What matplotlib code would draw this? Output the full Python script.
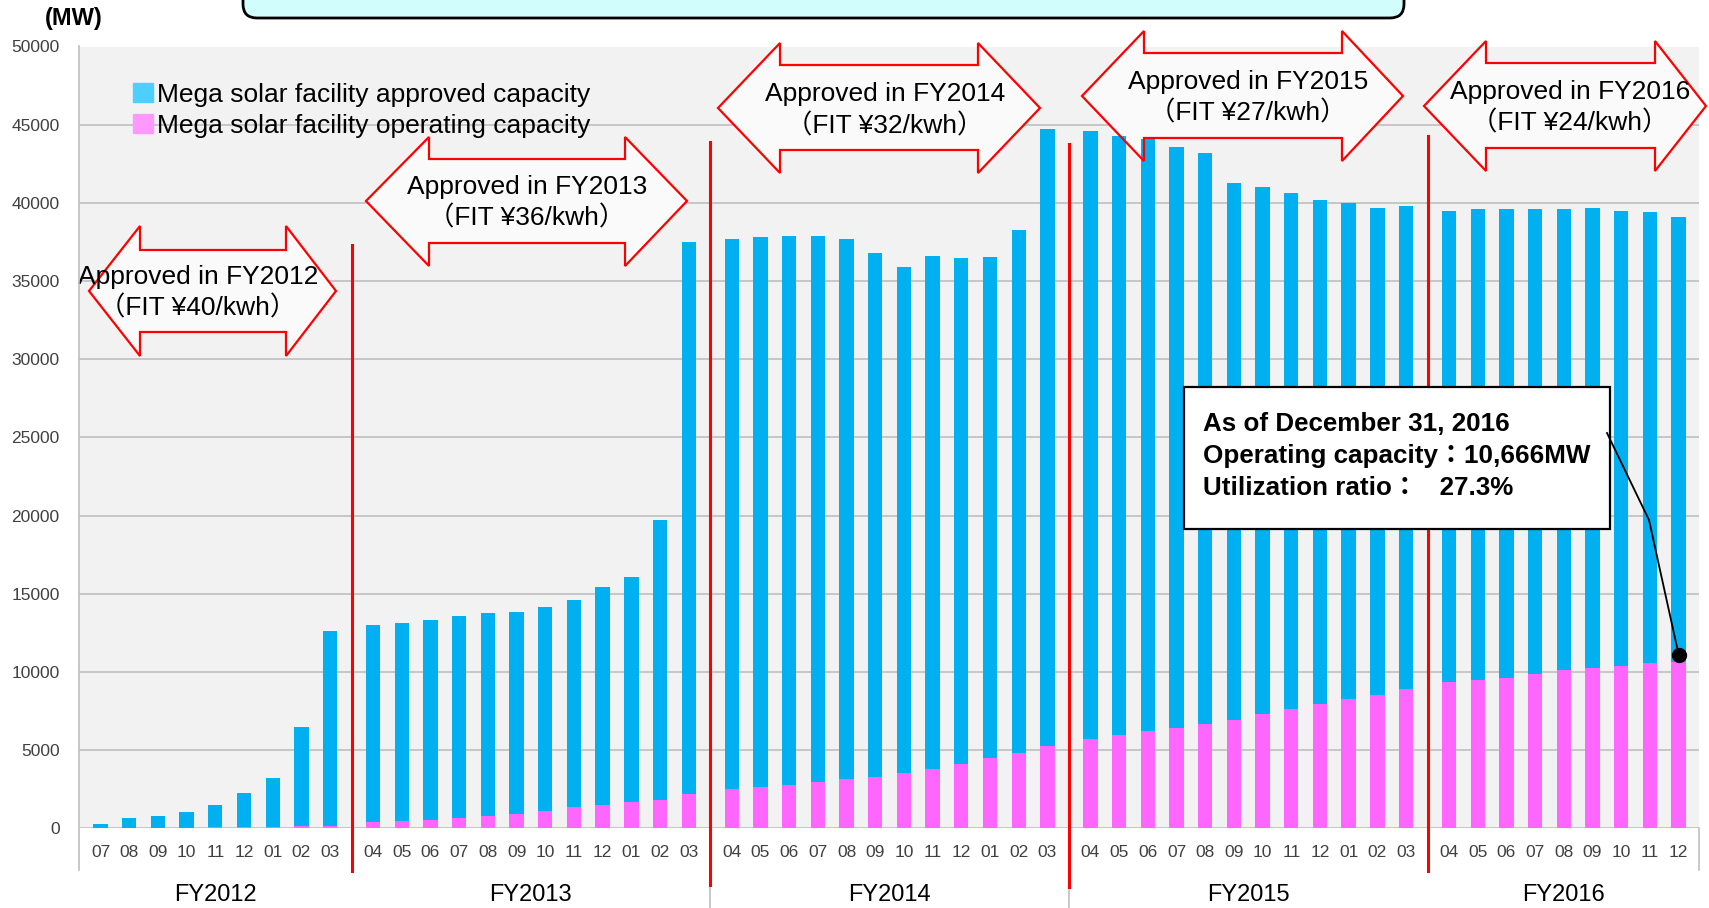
import matplotlib
matplotlib.use("Agg")
import matplotlib.pyplot as plt
import matplotlib.transforms as mtransforms
from matplotlib.patches import Polygon, FancyBboxPatch, Rectangle, Patch
from matplotlib.lines import Line2D

plt.rcParams["font.family"] = ["Liberation Sans", "Noto Sans CJK JP"]

# ---- data (MW) ----
fiscal_years = ["FY2012", "FY2013", "FY2014", "FY2015", "FY2016"]
months_fy2012 = ["07", "08", "09", "10", "11", "12", "01", "02", "03"]
months_full = ["04", "05", "06", "07", "08", "09", "10", "11", "12", "01", "02", "03"]
months_fy2016 = ["04", "05", "06", "07", "08", "09", "10", "11", "12"]
month_groups = [months_fy2012, months_full, months_full, months_full, months_fy2016]

approved = [280, 640, 770, 1060, 1470, 2240, 3240, 6500, 12600,
            12980, 13130, 13300, 13600, 13770, 13830, 14170, 14580, 15410, 16050, 19690, 37470,
            37660, 37790, 37850, 37890, 37660, 36790, 35910, 36610, 36450, 36510, 38240, 44730,
            44590, 44290, 44060, 43580, 43180, 41240, 41000, 40640, 40190, 39980, 39660, 39830,
            39490, 39600, 39600, 39600, 39600, 39640, 39490, 39390, 39067]
operating = [0, 10, 20, 30, 60, 70, 80, 130, 170,
             400, 470, 530, 640, 770, 940, 1130, 1340, 1510, 1700, 1830, 2170,
             2510, 2660, 2790, 2960, 3130, 3300, 3540, 3770, 4130, 4500, 4800, 5260,
             5730, 5970, 6200, 6430, 6670, 6910, 7310, 7610, 7970, 8270, 8500, 8910,
             9370, 9500, 9630, 9870, 10100, 10270, 10400, 10570, 10666]

arrow_texts = [("Approved in FY2012", "（FIT ¥40/kwh）"),
               ("Approved in FY2013", "（FIT ¥36/kwh）"),
               ("Approved in FY2014", "（FIT ¥32/kwh）"),
               ("Approved in FY2015", "（FIT ¥27/kwh）"),
               ("Approved in FY2016", "（FIT ¥24/kwh）")]

W, H = 1709, 908
fig = plt.figure(figsize=(W / 100, H / 100), dpi=100)
px = mtransforms.IdentityTransform()

# x positions: small extra gap between fiscal years
pos, labels, groups_idx = [], [], []
k = 0
for g, ms in enumerate(month_groups):
    idx = []
    for m in ms:
        pos.append(k + 0.5 * g)
        labels.append(m)
        idx.append(len(pos) - 1)
        k += 1
    groups_idx.append(idx)

ax = fig.add_axes([79 / W, 1 - 828.3 / H, 1620 / W, 781.8 / H])
ax.set_facecolor("#f2f2f2")
ax.bar(pos, approved, width=0.5, color="#00b0f0", zorder=2)
ax.bar(pos, operating, width=0.5, color="#ff66ff", zorder=2.1)
ax.set_xlim(-0.75, pos[-1] + 0.71)
ax.set_ylim(0, 50000)
ax.set_yticks(range(0, 50001, 5000))
ax.yaxis.grid(True, color="#bfbfbf", linewidth=1.2)
ax.set_axisbelow(True)
ax.tick_params(axis="y", length=0, pad=14, labelsize=12.5, labelcolor="#404040")
ax.set_xticks(pos, labels)
ax.tick_params(axis="x", length=0, pad=12, labelsize=12.5, labelcolor="#404040")
for s in ax.spines.values():
    s.set_visible(False)

fig.text(74, H - 19, "(MW)", transform=px, ha="center", va="center",
         fontsize=17, fontweight="bold")

# axis frame lines below the plot
fig.add_artist(Line2D([79, 79], [H - 46, H - 870], transform=px, color="#bfbfbf", lw=1.2))
fig.add_artist(Line2D([1699, 1699], [H - 828, H - 870], transform=px, color="#bfbfbf", lw=1.2))

bt = mtransforms.blended_transform_factory(ax.transData, px)
bounds = [(pos[groups_idx[g][-1]] + pos[groups_idx[g + 1][0]]) / 2 for g in range(4)]
grey_bottom = [870, 908, 908, 870]
red_top = [245, 142, 144, 136]
red_bottom = [871, 885, 887, 871]
for b, gb, rt, rb in zip(bounds, grey_bottom, red_top, red_bottom):
    ax.plot([b, b], [H - 828, H - gb], transform=bt, color="#bfbfbf", lw=1.2, clip_on=False, zorder=3)
    ax.plot([b, b], [H - rt, H - rb], transform=bt, color="#ff0000", lw=2.2, clip_on=False, zorder=3.5)

for g, name in enumerate(fiscal_years):
    c = sum(pos[i] for i in groups_idx[g]) / len(groups_idx[g])
    ax.text(c, H - 895, name, transform=bt, ha="center", va="center", fontsize=17, color="black")

# legend
ax.legend(handles=[Patch(color="#4dd0ff"), Patch(color="#ff99ff")],
          labels=["Mega solar facility approved capacity", "Mega solar facility operating capacity"],
          loc="upper left", bbox_to_anchor=(133, H - 83), bbox_transform=px, frameon=False,
          fontsize=19, handlelength=0.75, handleheight=0.75, handletextpad=0.15,
          labelspacing=0.26, borderpad=0, borderaxespad=0)

# double-headed block arrows: left tip, right tip, head bases, centre y, head top/bottom, shaft top/bottom, text x, line y's
arrow_geom = [(89, 336, 140, 286, 291, 226, 356, 250, 332, 198, 277, 308),
              (366, 687, 429, 625, 201, 137, 266, 159, 243, 527, 187, 218),
              (718, 1040, 780, 978, 108, 43, 173, 65, 150, 885, 94, 126),
              (1082, 1403, 1144, 1342, 96, 31, 161, 53, 138, 1248, 82, 113),
              (1424, 1706, 1486, 1655, 106, 41, 171, 63, 148, 1570, 92, 123)]
for (L, R, bl, br, cy, ht, hb, st, sb, tx, y1, y2), (t1, t2) in zip(arrow_geom, arrow_texts):
    pts = [(L, cy), (bl, ht), (bl, st), (br, st), (br, ht), (R, cy),
           (br, hb), (br, sb), (bl, sb), (bl, hb)]
    pts = [(x, H - y) for x, y in pts]
    ax.add_patch(Polygon(pts, closed=True, transform=px, facecolor="#fafafa",
                         edgecolor="none", zorder=1.5, clip_on=False))
    ax.add_patch(Polygon(pts, closed=True, transform=px, facecolor="none",
                         edgecolor="#ff0000", lw=1.6, zorder=4, clip_on=False))
    ax.text(tx, H - y1, t1, transform=px, ha="center", va="center", fontsize=19, zorder=5)
    ax.text(tx, H - y2, t2, transform=px, ha="center", va="center", fontsize=19, zorder=5)

# callout
ax.add_patch(Rectangle((1184, H - 529), 426, 142, transform=px, facecolor="white",
                       edgecolor="black", lw=1.6, zorder=6, clip_on=False))
callout = ["As of December 31, 2016", "Operating capacity：10,666MW", "Utilization ratio：   27.3%"]
for line, y in zip(callout, [424, 456, 488]):
    ax.text(1203, H - y, line, transform=px, ha="left", va="center", fontsize=18.7,
            fontweight="bold", zorder=7)

dot = ax.transData.transform((pos[-1], operating[-1])) + [0, 7]
fig.add_artist(Line2D([1607, 1649, dot[0]], [H - 433, H - 520, dot[1]], transform=px,
                      color="black", lw=1.3, zorder=8))
fig.add_artist(Line2D([dot[0]], [dot[1]], transform=px, marker="o", markersize=10,
                      color="black", zorder=9))

# title box cut by the top edge
fig.add_artist(FancyBboxPatch((243, H - 18), 1161, 60, boxstyle="round,pad=0,rounding_size=14",
                              transform=px, facecolor="#d2fdfd", edgecolor="black", lw=2))

fig.savefig("out.png", dpi=100)
